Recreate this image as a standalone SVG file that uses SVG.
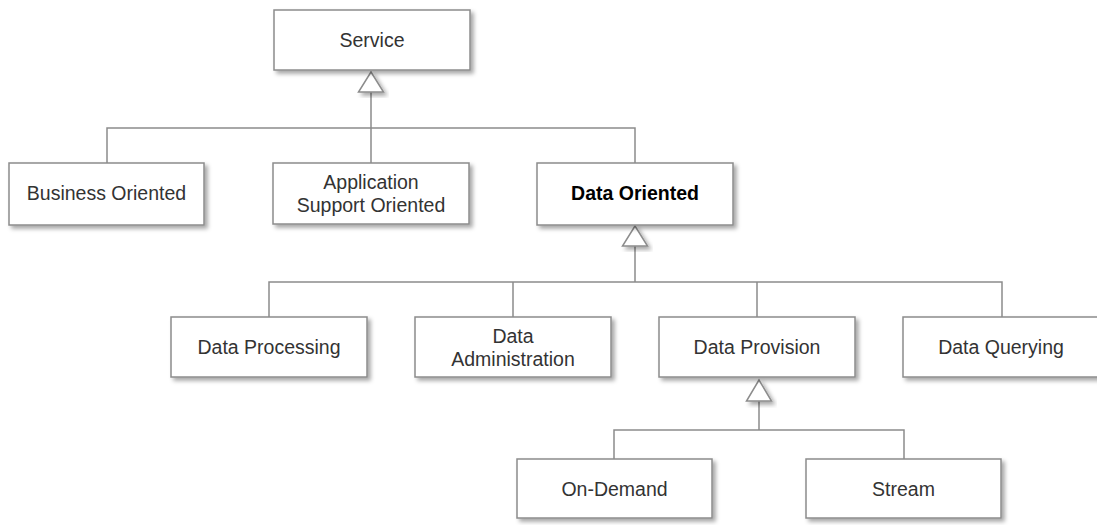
<svg xmlns="http://www.w3.org/2000/svg" width="1097" height="525" viewBox="0 0 1097 525">
<style>
.box{fill:#fff;stroke:#8c8c8c;stroke-width:1.5;filter:url(#sh)}
.tri{fill:#fff;stroke:#8c8c8c;stroke-width:1.5;filter:url(#sh)}
.ln{fill:none;stroke:#8c8c8c;stroke-width:1.5}
text{font-family:"Liberation Sans",Arial,sans-serif;font-size:19.5px;fill:#333;text-anchor:middle}
.b{font-weight:bold;fill:#000}
</style>
<defs>
<filter id="sh" x="-10%" y="-10%" width="130%" height="140%">
<feDropShadow dx="3" dy="3" stdDeviation="2" flood-color="#000" flood-opacity="0.35"/>
</filter>
</defs>
<rect width="1097" height="525" fill="#fff"/>
<g id="connectors">
<path class="ln" d="M371 92V128M107 163V128H635V163M371 128V163"/>
<path class="ln" d="M635 246V282M269 317V282H1002V317M513 282V317M757 282V317"/>
<path class="ln" d="M759 401V430M614 459V430H904V459"/>
<polygon class="tri" points="371,72 358.5,92 383.5,92"/>
<polygon class="tri" points="635,226 622.5,246 647.5,246"/>
<polygon class="tri" points="759,380 746.5,401 771.5,401"/>
</g>
<g id="service"><rect class="box" x="274" y="10" width="196" height="60"/><text x="372" y="47">Service</text></g>
<g id="business"><rect class="box" x="9" y="163" width="195" height="62"/><text x="106.5" y="200">Business Oriented</text></g>
<g id="application"><rect class="box" x="273" y="163" width="196" height="61"/><text x="371" y="189">Application</text><text x="371" y="212">Support Oriented</text></g>
<g id="data-oriented"><rect class="box" x="537" y="163" width="196" height="62"/><text class="b" x="635" y="200">Data Oriented</text></g>
<g id="processing"><rect class="box" x="171" y="317" width="196" height="60"/><text x="269" y="354">Data Processing</text></g>
<g id="administration"><rect class="box" x="415" y="317" width="196" height="60"/><text x="513" y="343">Data</text><text x="513" y="366">Administration</text></g>
<g id="provision"><rect class="box" x="659" y="317" width="196" height="60"/><text x="757" y="354">Data Provision</text></g>
<g id="querying"><rect class="box" x="903" y="317" width="196" height="60"/><text x="1001" y="354">Data Querying</text></g>
<g id="ondemand"><rect class="box" x="517" y="459" width="195" height="59"/><text x="614.5" y="496">On-Demand</text></g>
<g id="stream"><rect class="box" x="806" y="459" width="195" height="59"/><text x="903.5" y="496">Stream</text></g>
</svg>
